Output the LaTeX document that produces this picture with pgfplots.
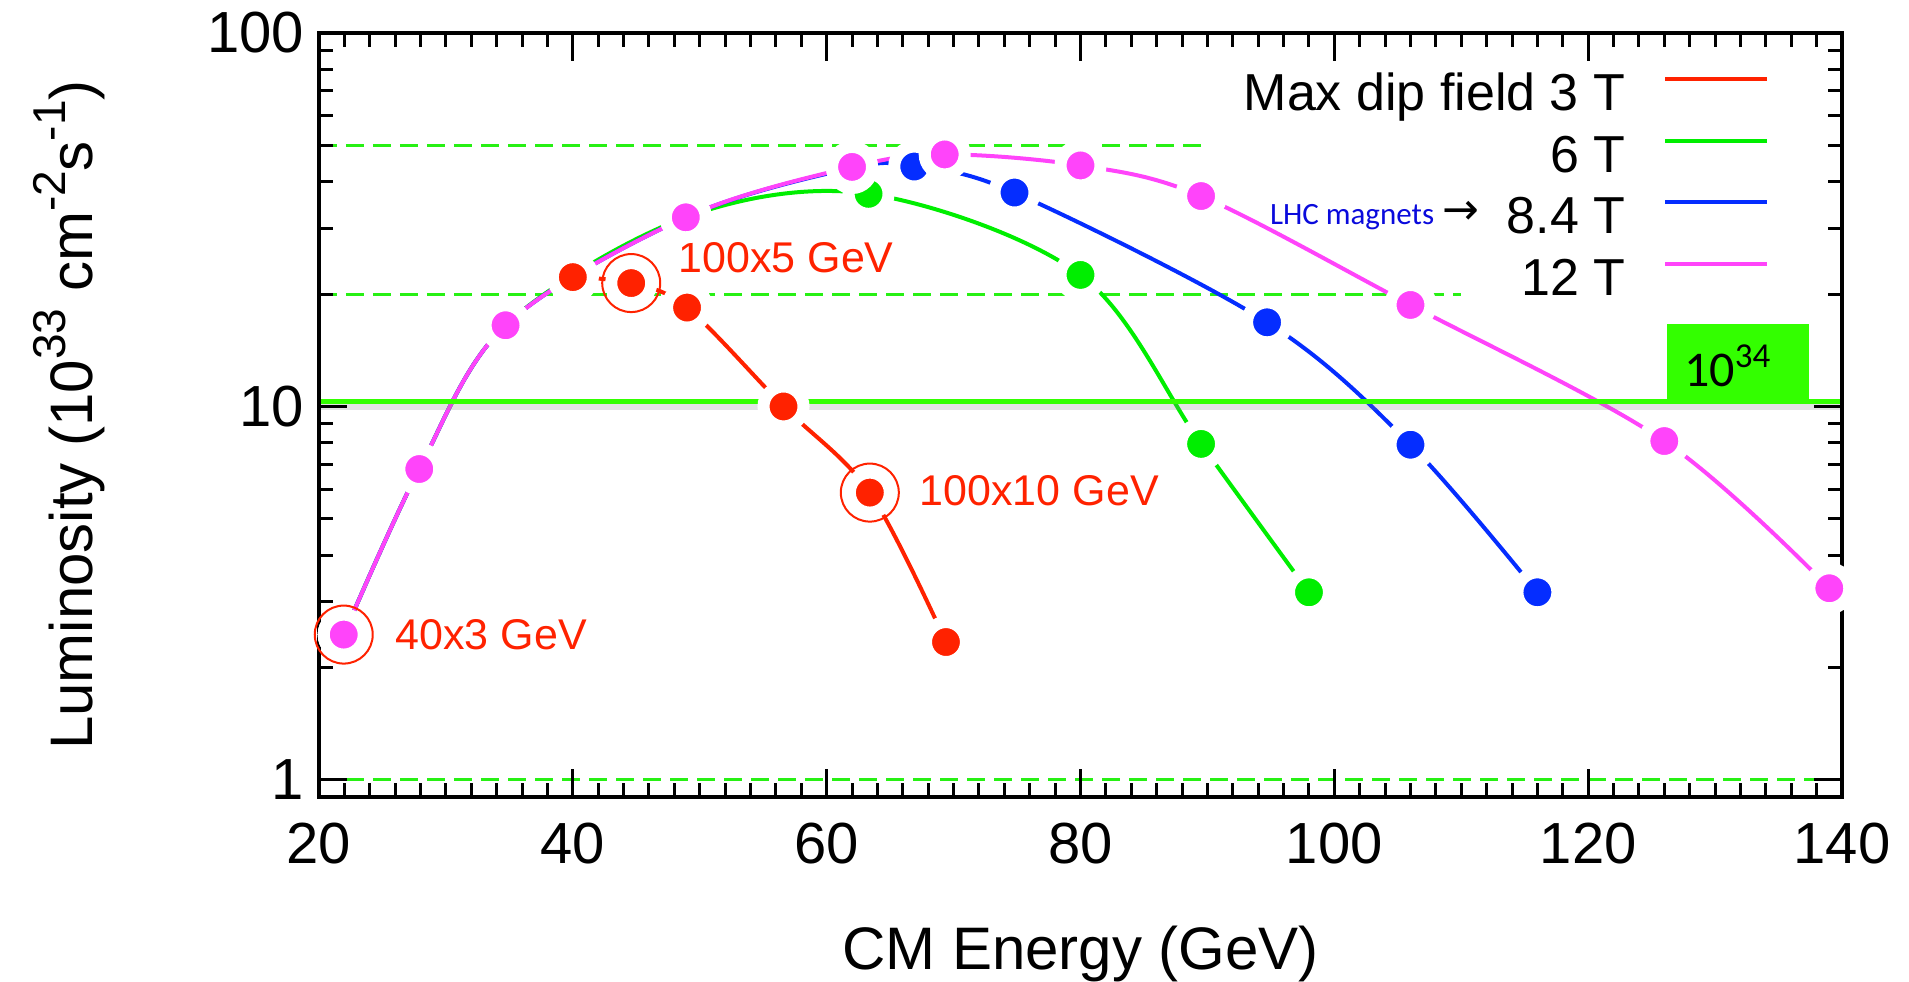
\documentclass[border=0pt]{standalone}
\usepackage{fontspec}
\setmainfont{Liberation Sans}
\newfontfamily\carlito{Carlito}
\newfontfamily\dejavu{DejaVu Sans}
\usepackage{pgfplots}
\pgfplotsset{compat=1.18}
\definecolor{cred}{RGB}{255,34,0}
\definecolor{cgreen}{RGB}{0,238,0}
\definecolor{cblue}{RGB}{5,45,255}
\definecolor{cmag}{RGB}{255,68,250}
\definecolor{lgreen}{RGB}{51,255,0}
\definecolor{dgreen}{RGB}{40,240,20}
\definecolor{lhcblue}{RGB}{10,10,220}
\newcommand{\supx}[1]{\raisebox{0.45em}{\fontsize{23}{23}\selectfont #1}}
\pgfplotsset{
  curve/.style={smooth, tension=0.55, line width=2pt, color=#1, mark=*, mark size=10pt,
    mark options={draw=white, fill=#1, line width=6pt, solid}, forget plot},
}
\begin{document}
\begin{tikzpicture}
\begin{axis}[
  scale only axis, width=761.5pt, height=382pt,
  ymode=log, xmin=20, xmax=140, ymin=0.9, ymax=100,
  axis on top,
  axis line style={line width=2pt},
  every tick/.style={black, line width=1.5pt},
  major tick length=14pt, minor tick length=7pt,
  tick align=inside,
  xtick={20,40,...,140}, xticklabels={20,40,60,80,100,120,140},
  minor x tick num=9,
  ytick={1,10,100}, yticklabels={1,10,100},
  minor ytick={2,3,4,5,6,7,8,9,20,30,40,50,60,70,80,90},
  tick label style={font=\fontsize{29}{29}\selectfont},
  xticklabel style={yshift=-9.5pt},
  yticklabel style={xshift=-4pt},
  xlabel={CM Energy (GeV)},
  ylabel={Luminosity (10\supx{33} cm\supx{-2}s\supx{-1})},
  label style={font=\fontsize{30}{30}\selectfont},
  xlabel style={at={(axis description cs:0.5,-0.2264)}, anchor=base},
  ylabel style={at={(axis description cs:-0.1484,0.5)}, anchor=base},
  legend style={at={(0.9522,0.9483)}, anchor=north east, draw=none, fill=none,
    inner sep=0pt, outer sep=0pt, row sep=5.85pt, column sep=19pt,
    font=\fontsize{26}{26}\selectfont,
    nodes={inner sep=0pt, text height=19pt, text depth=6pt}},
  legend cell align=right,
  legend plot pos=right,
  legend image code/.code={\draw[#1] (0pt,9.3pt) -- (51pt,9.3pt);},
]
% dashed reference lines
\addplot[dgreen, line width=1.5pt, dash pattern=on 9pt off 4.5pt, forget plot] coordinates {(20,50) (90,50)};
\addplot[dgreen, line width=1.5pt, dash pattern=on 9pt off 4.5pt, forget plot] coordinates {(20,20) (110,20)};
\addplot[dgreen, line width=1.5pt, dash pattern=on 9pt off 4.5pt, forget plot] coordinates {(20,1) (140,1)};
% 3 T
\addplot[curve=cred] coordinates {(40.0,22.2) (44.6,21.4) (49.0,18.4) (56.6,10.0) (63.4,5.88) (69.4,2.34)};
% 6 T
\addplot[curve=cgreen] coordinates {(21.95,2.45) (27.9,6.8) (34.7,16.5) (48.9,32.1) (63.3,37.1) (80.0,22.5) (89.5,7.94) (98.0,3.18)};
% 8.4 T
\addplot[curve=cblue] coordinates {(21.95,2.45) (27.9,6.8) (34.7,16.5) (48.9,32.1) (62.0,43.5) (66.9,43.9) (74.8,37.4) (94.7,16.8) (106.0,7.9) (116.0,3.18)};
% 12 T
\addplot[curve=cmag] coordinates {(21.95,2.45) (27.9,6.8) (34.7,16.5) (48.9,32.1) (62.0,43.8) (69.3,47.3) (80.0,44.2) (89.5,36.6) (106.0,18.7) (126.0,8.08) (139.0,3.26)};
% 10^34 line with shadow
\addplot[gray, opacity=0.22, line width=3pt, forget plot] coordinates {(20,9.98) (140,9.98)};
\addplot[lgreen, line width=2.8pt, forget plot] coordinates {(20,10.3) (140,10.3)};
\addplot[fill=lgreen, draw=none, forget plot] coordinates {(126.2,10.3) (137.4,10.3) (137.4,16.6) (126.2,16.6)} -- cycle;
\node[font=\carlito\fontsize{25}{25}\selectfont, inner sep=0pt] at (axis cs:131.0,12.85) {10\textsuperscript{34}};
% circled points
\addplot[only marks, mark=o, mark size=14.5pt, cred, mark options={line width=1pt}, forget plot] coordinates {(21.95,2.45) (44.6,21.4) (63.4,5.88)};
% annotations
\node[anchor=west, inner sep=0pt, text=cred, font=\fontsize{21.5}{21.5}\selectfont] at (axis cs:48.3,25.1) {100x5 GeV};
\node[anchor=west, inner sep=0pt, text=cred, font=\fontsize{21.5}{21.5}\selectfont] at (axis cs:67.3,5.95) {100x10 GeV};
\node[anchor=west, inner sep=0pt, text=cred, font=\fontsize{21.5}{21.5}\selectfont] at (axis cs:26.0,2.45) {40x3 GeV};
\node[anchor=base west, inner sep=0pt] at (axis cs:94.9,30.7) {\carlito\fontsize{15.5}{15.5}\selectfont\color{lhcblue}LHC magnets\hspace{4pt}{\dejavu\color{black}\fontsize{22}{22}\selectfont →}};
% legend
\addlegendimage{cred, line width=2pt}
\addlegendentry{Max dip field 3 T}
\addlegendimage{cgreen, line width=2pt}
\addlegendentry{6 T}
\addlegendimage{cblue, line width=2pt}
\addlegendentry{8.4 T}
\addlegendimage{cmag, line width=2pt}
\addlegendentry{12 T}
\end{axis}
\pgfresetboundingbox
\path (current axis.south west) ++(-159.5pt,-92pt) rectangle ++(954.5pt,490.5pt);
\end{tikzpicture}
\end{document}
